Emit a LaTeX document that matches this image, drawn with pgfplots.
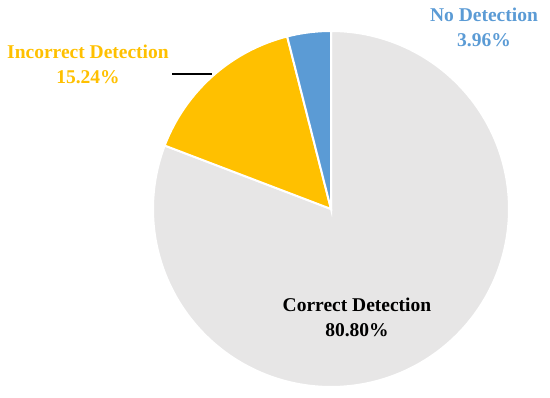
\documentclass[border=0pt]{standalone}
\usepackage{pgfplots}
\usepackage{pgfplotstable}
\pgfplotsset{compat=1.18}
\usepackage{fontspec}
\setmainfont{Liberation Serif}
\definecolor{cgray}{HTML}{E7E6E6}
\definecolor{cyellow}{HTML}{FFC000}
\definecolor{cblue}{HTML}{5B9BD5}
\pgfplotstableread[col sep=comma]{
label,value
Correct Detection,80.80
Incorrect Detection,15.24
No Detection,3.96
}\piedata
\pgfplotstablegetelem{0}{value}\of\piedata \let\vA\pgfplotsretval
\pgfplotstablegetelem{1}{value}\of\piedata \let\vB\pgfplotsretval
\pgfplotstablegetelem{2}{value}\of\piedata \let\vC\pgfplotsretval
\pgfmathsetmacro{\aA}{90}
\pgfmathsetmacro{\aB}{\aA-3.6*\vA}
\pgfmathsetmacro{\aC}{\aB-3.6*\vB}
\pgfmathsetmacro{\aD}{\aC-3.6*\vC}
\begin{document}
\begin{tikzpicture}
\begin{axis}[
  width=550pt, height=398pt, scale only axis,
  xmin=0, xmax=550, ymin=0, ymax=398,
  hide axis, clip=false,
]
\addplot[fill=cgray, draw=white, line width=2pt, domain=\aB:\aA, samples=180, variable=\t]
  ({331+178*cos(\t)}, {189+178*sin(\t)}) -- (axis cs:331,189) -- cycle;
\addplot[fill=cyellow, draw=white, line width=2pt, domain=\aC:\aB, samples=60, variable=\t]
  ({331+178*cos(\t)}, {189+178*sin(\t)}) -- (axis cs:331,189) -- cycle;
\addplot[fill=cblue, draw=white, line width=2pt, domain=\aD:\aC, samples=30, variable=\t]
  ({331+178*cos(\t)}, {189+178*sin(\t)}) -- (axis cs:331,189) -- cycle;
\addplot[black, line width=1.2pt] coordinates {(172,324) (212,324)};
\node[font=\bfseries\fontsize{19.5}{25}\selectfont, text=cyellow, align=center] at (axis cs:88,334) {Incorrect Detection\\15.24\%};
\node[font=\bfseries\fontsize{19.5}{25}\selectfont, text=cblue, align=center] at (axis cs:484,371) {No Detection\\3.96\%};
\node[font=\bfseries\fontsize{19.5}{25}\selectfont, text=black, align=center] at (axis cs:357,81) {Correct Detection\\80.80\%};
\end{axis}
\useasboundingbox (current axis.south west) rectangle (current axis.north east);
\end{tikzpicture}
\end{document}
